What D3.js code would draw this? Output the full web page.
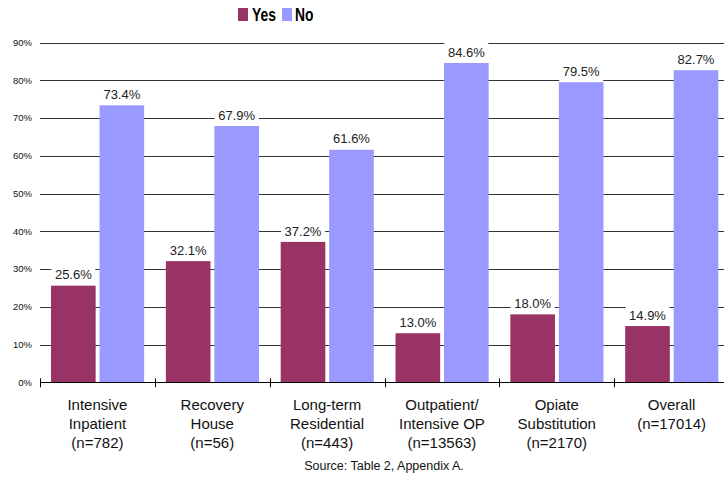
<!DOCTYPE html>
<html>
<head>
<meta charset="utf-8">
<script src="https://cdn.jsdelivr.net/npm/d3@7/dist/d3.min.js"></script>
<style>
  html, body { margin: 0; padding: 0; background: #fff; }
  svg { display: block; font-family: "Liberation Sans", Arial, sans-serif; }
</style>
</head>
<body>
<svg id="chart" width="724" height="478"></svg>
<script>
// Treatment categories, each label split into lines
const categories = [
  ["Intensive", "Inpatient", "(n=782)"],
  ["Recovery", "House", "(n=56)"],
  ["Long-term", "Residential", "(n=443)"],
  ["Outpatient/", "Intensive OP", "(n=13563)"],
  ["Opiate", "Substitution", "(n=2170)"],
  ["Overall", "(n=17014)"]
];
const seriesNames = ["Yes", "No"];
const yesValues = [25.6, 32.1, 37.2, 13.0, 18.0, 14.9];
const noValues  = [73.4, 67.9, 61.6, 84.6, 79.5, 82.7];
const yTicks = [0, 10, 20, 30, 40, 50, 60, 70, 80, 90];
const colors = ["#993366", "#9999FF"];

const svg = d3.select("#chart");
const plotLeft = 40, plotRight = 729, plotTop = 42.6, plotBottom = 382.3;

const x = d3.scaleBand().domain(d3.range(categories.length)).range([plotLeft, plotRight]).padding(0);
const bw = x.bandwidth();
const sub = d3.scaleBand().domain(seriesNames).range([bw * 0.096, bw * 0.907]).paddingInner(0.08);
const y = d3.scaleLinear().domain([0, 90]).range([plotBottom, plotTop]);

// horizontal gridlines
svg.append("g").selectAll("line").data(yTicks.filter(d => d > 0)).join("line")
  .attr("x1", plotLeft).attr("x2", 724)
  .attr("y1", d => Math.round(y(d)) + 0.5).attr("y2", d => Math.round(y(d)) + 0.5)
  .attr("stroke", "#333").attr("stroke-width", 1);

// y tick labels
svg.append("g").selectAll("text").data(yTicks).join("text")
  .attr("x", 32).attr("y", d => y(d)).attr("dy", "0.35em")
  .attr("text-anchor", "end").attr("font-size", 9.5).attr("fill", "#111")
  .text(d => d + "%");

// bars
const rows = categories.map((c, i) => ({ i, values: [yesValues[i], noValues[i]] }));
const groups = svg.append("g").selectAll("g").data(rows).join("g")
  .attr("transform", d => `translate(${x(d.i)},0)`);

const cells = d => seriesNames.map((s, k) => ({ s, k, v: d.values[k] }));

groups.selectAll("rect.bar").data(cells).join("rect").attr("class", "bar")
  .attr("x", d => sub(d.s)).attr("width", sub.bandwidth())
  .attr("y", d => y(d.v)).attr("height", d => y(0) - y(d.v))
  .attr("fill", d => colors[d.k]);

// value labels with white backing
const lab = groups.selectAll("g.lab").data(cells).join("g").attr("class", "lab")
  .attr("transform", d => `translate(${sub(d.s) + sub.bandwidth() / 2},${y(d.v) - 11})`);
lab.append("rect").attr("x", -22).attr("y", -10).attr("width", 44).attr("height", 20).attr("fill", "#fff");
lab.append("text").attr("text-anchor", "middle").attr("dy", "0.36em")
  .attr("font-size", 13).attr("fill", "#222")
  .text(d => d.v.toFixed(1) + "%");

// x axis line and ticks
const axis = svg.append("g");
axis.append("line").attr("x1", plotLeft).attr("x2", 724)
  .attr("y1", Math.round(plotBottom) + 0.5).attr("y2", Math.round(plotBottom) + 0.5)
  .attr("stroke", "#000");
axis.selectAll("line.tk").data(d3.range(categories.length)).join("line").attr("class", "tk")
  .attr("x1", d => Math.round(x(d)) + 0.5).attr("x2", d => Math.round(x(d)) + 0.5)
  .attr("y1", plotBottom - 4).attr("y2", plotBottom + 5).attr("stroke", "#000");

// category labels
const cl = svg.append("g").selectAll("text").data(categories).join("text")
  .attr("text-anchor", "middle").attr("font-size", 15).attr("fill", "#111")
  .attr("transform", (d, i) => `translate(${x(i) + bw / 2},${410})`);
cl.selectAll("tspan").data(d => d).join("tspan")
  .attr("x", 0).attr("y", (d, j) => j * 19).text(d => d);

// legend
const leg = svg.append("g");
const legItems = [{ name: "Yes", sx: 238, tx: 252, w: 24 }, { name: "No", sx: 282, tx: 295, w: 18.5 }];
legItems.forEach((it, k) => {
  leg.append("rect").attr("x", it.sx).attr("y", 8).attr("width", 10).attr("height", 13).attr("fill", colors[k]);
  leg.append("text").attr("x", it.tx).attr("y", 20.5).attr("font-size", 18).attr("font-weight", "bold")
    .attr("textLength", it.w).attr("lengthAdjust", "spacingAndGlyphs").attr("fill", "#000")
    .text(it.name);
});

// source note
svg.append("text").attr("x", 384).attr("y", 470).attr("text-anchor", "middle")
  .attr("font-size", 12.5).attr("fill", "#111").text("Source: Table 2, Appendix A.");
</script>
</body>
</html>
